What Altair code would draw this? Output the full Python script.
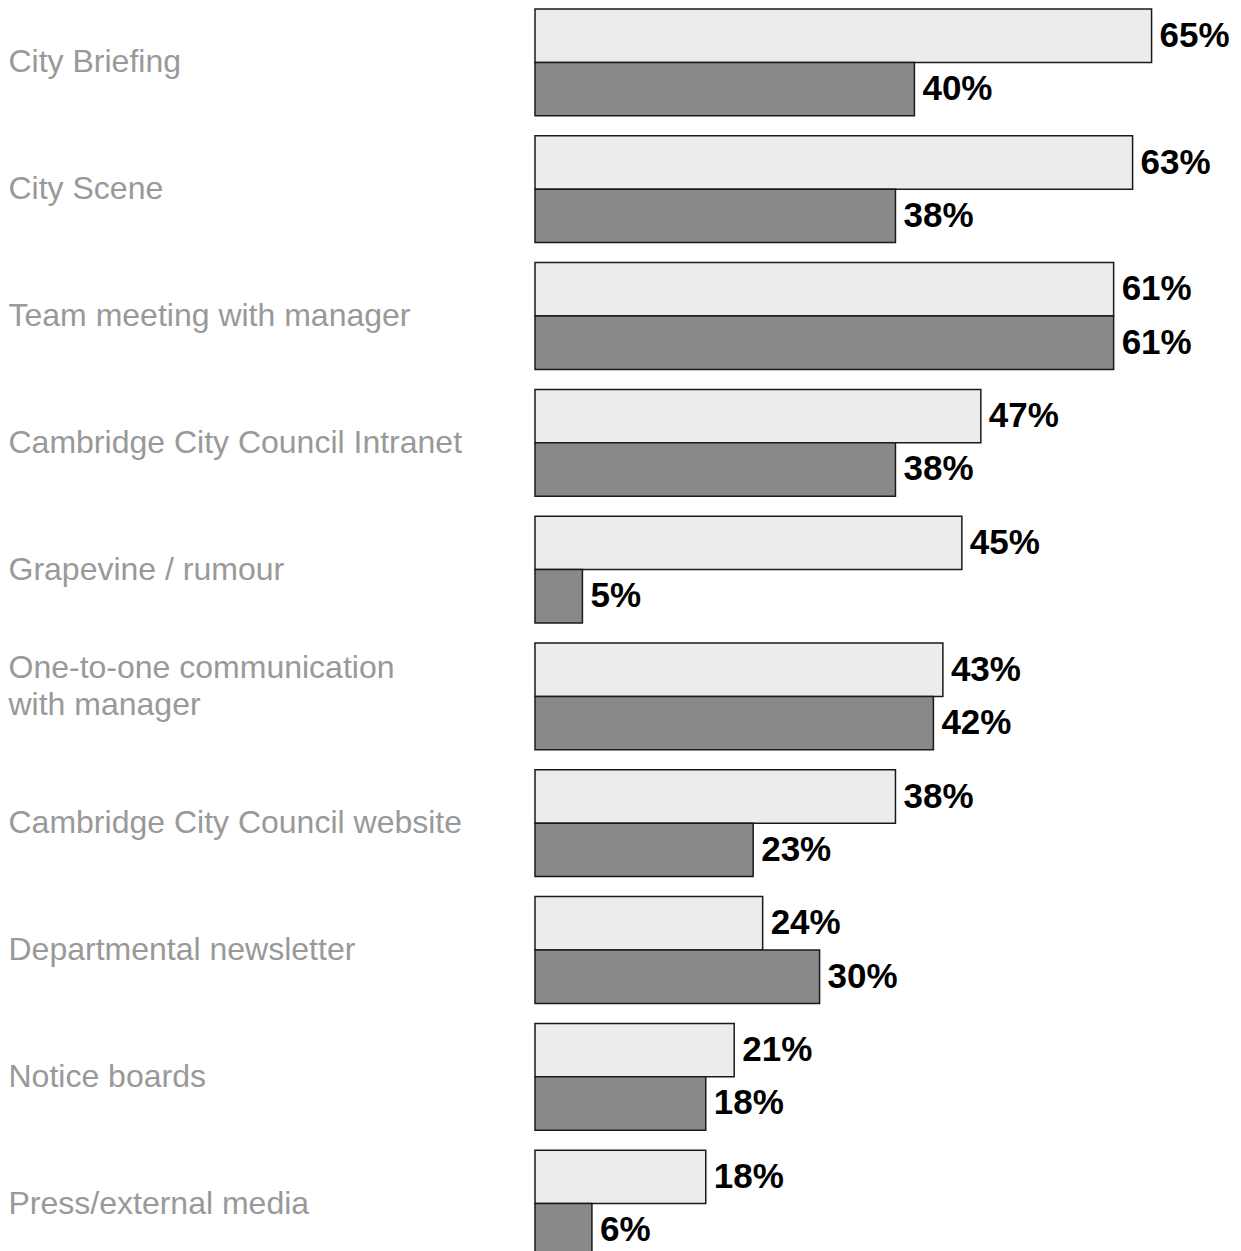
import altair as alt
import pandas as pd

categories = [
    "City Briefing",
    "City Scene",
    "Team meeting with manager",
    "Cambridge City Council Intranet",
    "Grapevine / rumour",
    "One-to-one communication|with manager",
    "Cambridge City Council website",
    "Departmental newsletter",
    "Notice boards",
    "Press/external media",
]
series_names = ["Series 1", "Series 2"]
series1 = [65, 63, 61, 47, 45, 43, 38, 24, 21, 18]
series2 = [40, 38, 61, 38, 5, 42, 23, 30, 18, 6]
colors = ["#ececec", "#898989"]

rows = []
for c, a, b in zip(categories, series1, series2):
    rows.append({"category": c, "series": series_names[0], "value": a})
    rows.append({"category": c, "series": series_names[1], "value": b})
df = pd.DataFrame(rows)

y_enc = alt.Y(
    "category:N",
    sort=categories,
    scale=alt.Scale(paddingInner=0.158, paddingOuter=0.008),
    axis=alt.Axis(
        title=None,
        domain=False,
        ticks=False,
        grid=False,
        labelAlign="left",
        labelBaseline="middle",
        labelPadding=527,
        labelFont="Liberation Sans",
        labelFontSize=32,
        labelColor="#999999",
        labelLineHeight=37,
        labelLimit=0,
        labelOffset={"condition": {"test": "indexof(datum.value, '|') >= 0", "value": -28}, "value": 0},
        labelExpr="split(datum.label, '|')",
    ),
)
yoff = alt.YOffset("series:N", sort=series_names, scale=alt.Scale(paddingInner=0, paddingOuter=0))
x_enc = alt.X("value:Q", scale=alt.Scale(domain=[0, 70]), axis=None)

base = alt.Chart(df)

bars = base.mark_bar(stroke="#1a1a1a", strokeWidth=1.5).encode(
    y=y_enc,
    yOffset=yoff,
    x=x_enc,
    color=alt.Color("series:N", scale=alt.Scale(domain=series_names, range=colors), legend=None),
)

labels = base.transform_calculate(
    label="format(datum.value, 'd') + '%'"
).mark_text(
    align="left",
    baseline="middle",
    dx=8,
    font="Liberation Sans",
    fontWeight="bold",
    fontSize=35,
    color="#000000",
).encode(
    y=y_enc,
    yOffset=yoff,
    x=x_enc,
    text="label:N",
)

chart = (
    alt.layer(bars, labels)
    .properties(width=664, height=1250, padding=0)
    .configure_view(strokeWidth=0)
)

chart.save("out.html", embed_options={"renderer": "svg", "actions": False})
